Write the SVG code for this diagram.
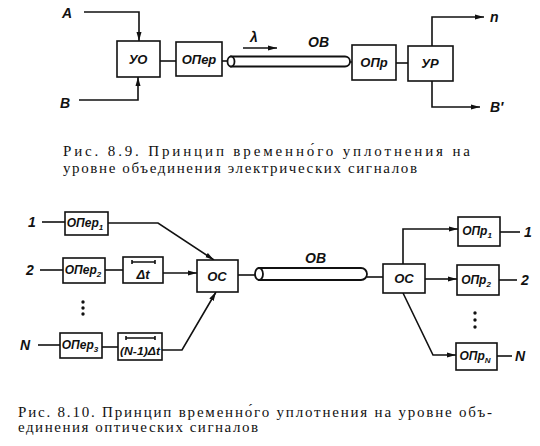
<svg xmlns="http://www.w3.org/2000/svg" width="540" height="446" viewBox="0 0 540 446">
<style>
.box{fill:#fff;stroke:#111;stroke-width:1.6}
.ln{fill:none;stroke:#111;stroke-width:1.6}
.fib{fill:#fff;stroke:#111;stroke-width:1.8}
.lbl{font-family:"Liberation Sans",Arial,sans-serif;font-style:italic;font-weight:bold;font-size:13px;fill:#111;text-anchor:middle}
.sm{font-size:12px}
.io{font-family:"Liberation Sans",Arial,sans-serif;font-style:italic;font-weight:bold;font-size:14px;fill:#111}
.cap{font-family:"Liberation Serif","Times New Roman",serif;font-size:15px;fill:#111}
.dot{fill:#111}
</style>
<defs>
<marker id="ar" markerWidth="10" markerHeight="6" refX="9" refY="3" orient="auto" markerUnits="userSpaceOnUse">
<path d="M0,0.5 L9,3 L0,5.5 Z" fill="#111"/>
</marker>
</defs>
<rect width="540" height="446" fill="#fff"/>

<!-- Fig 8.9 -->
<g id="connectors1">
<path class="ln" d="M84,12 H139 V41" marker-end="url(#ar)"/>
<path class="ln" d="M79,100 H138 V77" marker-end="url(#ar)"/>
<path class="ln" d="M160,61 H176"/>
<path class="ln" d="M222,61 H227"/>
<path class="ln" d="M350,62 H352"/>
<path class="ln" d="M396,63 H408"/>
<path class="ln" d="M432,46 V17 H484" marker-end="url(#ar)"/>
<path class="ln" d="M432,81 V107 H480" marker-end="url(#ar)"/>
<path class="ln" d="M243,48 H277" marker-end="url(#ar)"/>
</g>
<g id="labels1">
<text class="io" x="62" y="18">A</text>
<text class="io" x="60" y="108">B</text>
<text class="io" x="490" y="22">n</text>
<text class="io" x="490" y="112">B′</text>
<text class="io" x="250" y="42">λ</text>
<text class="io" x="308" y="47">ОВ</text>
</g>
<g id="uo"><rect class="box" x="117" y="41" width="43" height="36"/><text class="lbl" x="138" y="64">УО</text></g>
<g id="oper"><rect class="box" x="176" y="42" width="46" height="34"/><text class="lbl" x="199" y="64">ОПер</text></g>
<g id="fiber1">
<path class="fib" d="M231,56.5 H345 A5,5 0 0 1 345,66.5 H231 Z"/>
<ellipse class="fib" cx="231" cy="61.5" rx="3.5" ry="5"/>
</g>
<g id="opr"><rect class="box" x="352" y="45" width="44" height="35"/><text class="lbl" x="374" y="67">ОПр</text></g>
<g id="ur"><rect class="box" x="408" y="46" width="45" height="35"/><text class="lbl" x="430" y="68">УР</text></g>

<g id="caption1">
<text class="cap" x="63" y="156" textLength="407" lengthAdjust="spacing">Рис. 8.9. Принцип временно́го уплотнения на</text>
<text class="cap" x="63" y="173" textLength="354" lengthAdjust="spacing">уровне объединения электрических сигналов</text>
</g>

<!-- Fig 8.10 -->
<g id="connectors2">
<path class="ln" d="M42,222 H65"/>
<path class="ln" d="M108,223 H158 L214,260" marker-end="url(#ar)"/>
<path class="ln" d="M40,270 H63"/>
<path class="ln" d="M105,270 H123"/>
<path class="ln" d="M163,273 H197" marker-end="url(#ar)"/>
<path class="ln" d="M38,345 H60"/>
<path class="ln" d="M102,347 H118"/>
<path class="ln" d="M162,350 H182 L216,292" marker-end="url(#ar)"/>
<path class="ln" d="M238,275 H255"/>
<path class="ln" d="M367,277 H383"/>
<path class="ln" d="M403,264 V229 H458" marker-end="url(#ar)"/>
<path class="ln" d="M425,279 H457" marker-end="url(#ar)"/>
<path class="ln" d="M403,293 L433,355 H456" marker-end="url(#ar)"/>
<path class="ln" d="M500,232 H520"/>
<path class="ln" d="M499,280 H517"/>
<path class="ln" d="M497,356 H512"/>
</g>
<g id="labels2">
<text class="io" x="28" y="227">1</text>
<text class="io" x="26" y="275">2</text>
<text class="io" x="20" y="350">N</text>
<text class="io" x="524" y="237">1</text>
<text class="io" x="521" y="285">2</text>
<text class="io" x="515" y="361">N</text>
<text class="io" x="305" y="263">ОВ</text>
<circle class="dot" cx="83" cy="302" r="1.7"/><circle class="dot" cx="83" cy="308" r="1.7"/><circle class="dot" cx="83" cy="314" r="1.7"/>
<circle class="dot" cx="475" cy="313" r="1.7"/><circle class="dot" cx="475" cy="320" r="1.7"/><circle class="dot" cx="475" cy="327" r="1.7"/>
</g>
<g id="oper1"><rect class="box" x="65" y="212" width="43" height="23"/><text class="lbl sm" x="85" y="227">ОПер<tspan font-size="8" dy="3">1</tspan></text></g>
<g id="oper2"><rect class="box" x="63" y="258" width="42" height="25"/><text class="lbl sm" x="83" y="274">ОПер<tspan font-size="8" dy="3">2</tspan></text></g>
<g id="oper3"><rect class="box" x="60" y="333" width="42" height="25"/><text class="lbl sm" x="80" y="349">ОПер<tspan font-size="8" dy="3">3</tspan></text></g>
<g id="dt1"><rect class="box" x="123" y="257" width="40" height="26"/>
<path class="ln" d="M132,262 H155 M132,260 V264 M155,260 V264" stroke-width="1.3"/>
<text class="lbl" x="143" y="279">Δt</text></g>
<g id="dt2"><rect class="box" x="118" y="333" width="44" height="27"/>
<path class="ln" d="M126,338 H155 M126,336 V340 M155,336 V340" stroke-width="1.3"/>
<text class="lbl" x="140" y="355" style="font-size:11px" textLength="40" lengthAdjust="spacingAndGlyphs">(N-1)Δt</text></g>
<g id="oc1"><rect class="box" x="197" y="260" width="41" height="32"/><text class="lbl" x="217" y="281">ОС</text></g>
<g id="fiber2">
<path class="fib" d="M259,268 H361 A6,6 0 0 1 361,280 H259 Z"/>
<ellipse class="fib" cx="259" cy="274" rx="4" ry="6"/>
</g>
<g id="oc2"><rect class="box" x="383" y="264" width="42" height="29"/><text class="lbl" x="404" y="283">ОС</text></g>
<g id="opr1"><rect class="box" x="458" y="217" width="42" height="29"/><text class="lbl sm" x="477" y="235">ОПр<tspan font-size="8" dy="3">1</tspan></text></g>
<g id="opr2"><rect class="box" x="457" y="265" width="42" height="30"/><text class="lbl sm" x="476" y="284">ОПр<tspan font-size="8" dy="3">2</tspan></text></g>
<g id="oprn"><rect class="box" x="456" y="343" width="41" height="27"/><text class="lbl sm" x="475" y="360">ОПр<tspan font-size="8" dy="3">N</tspan></text></g>

<g id="caption2">
<text class="cap" x="18" y="417" textLength="474" lengthAdjust="spacing">Рис. 8.10. Принцип временно́го уплотнения на уровне объ-</text>
<text class="cap" x="18" y="432" textLength="240" lengthAdjust="spacing">единения оптических сигналов</text>
</g>
</svg>
